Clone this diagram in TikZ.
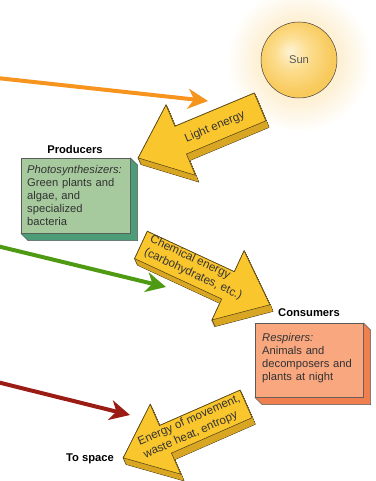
\documentclass[tikz,border=0pt]{standalone}
\usepackage{fontspec}
\setmainfont{Liberation Sans}
\usetikzlibrary{arrows.meta}
\definecolor{arrface}{HTML}{FAC62E}
\definecolor{arrside}{HTML}{D9A623}
\definecolor{arrline}{HTML}{4A3C14}
\definecolor{prodface}{HTML}{A6C99D}
\definecolor{prodside}{HTML}{4C9C78}
\definecolor{consface}{HTML}{F8A77F}
\definecolor{consside}{HTML}{EF7F4E}
\definecolor{boxline}{HTML}{5A5A5A}
\definecolor{txt}{HTML}{333333}
\definecolor{orangec}{HTML}{F7941D}
\definecolor{greenc}{HTML}{4F9A13}
\definecolor{redc}{HTML}{9B1C14}
\definecolor{glowc}{HTML}{FDF0D4}
\definecolor{sunhi}{HTML}{FEF3D4}
\definecolor{sunmid}{HTML}{FCDC8C}
\definecolor{sunedge}{HTML}{F8CA5C}
\pgfdeclareradialshading{sunglow}{\pgfpoint{0bp}{0bp}}{color(0bp)=(glowc); color(14bp)=(glowc); color(25bp)=(white); color(50bp)=(white)}
\pgfdeclareradialshading{sunfill}{\pgfpoint{-6bp}{6bp}}{color(0bp)=(sunhi); color(12bp)=(sunmid); color(25bp)=(sunedge); color(50bp)=(sunedge)}
\newcommand\blockarrow[4]{%
  \foreach \k in {0,...,10}{%
    \filldraw[draw=arrline,fill=arrline,line width=0.9pt,shift={(#1+0.3*\k,#2+0.65*\k)},rotate=#3]
      (0,-15) -- ({#4-46},-15) -- ({#4-46},-38) -- (#4,0) -- ({#4-46},38) -- ({#4-46},15) -- (0,15) -- cycle;}
  \foreach \k in {0,...,10}{%
    \fill[arrside,shift={(#1+0.3*\k,#2+0.65*\k)},rotate=#3]
      (0,-15) -- ({#4-46},-15) -- ({#4-46},-38) -- (#4,0) -- ({#4-46},38) -- ({#4-46},15) -- (0,15) -- cycle;}
  \filldraw[fill=arrface,draw=arrline,line width=0.5pt,shift={(#1,#2)},rotate=#3]
      (0,-15) -- ({#4-46},-15) -- ({#4-46},-38) -- (#4,0) -- ({#4-46},38) -- ({#4-46},15) -- (0,15) -- cycle;
}
\begin{document}
\begin{tikzpicture}[x=1pt,y=-1pt,
  font=\fontsize{11.2}{13}\selectfont,
  thinarr/.style={line width=4pt,-{Stealth[length=20pt,width=20pt,inset=6pt]}},
  boxtext/.style={text width=104pt,align=left,inner sep=0pt,text=txt},
  headlbl/.style={font=\fontsize{11.2}{13}\selectfont\bfseries,text=black,inner sep=0pt},
  arrtext/.style={text=txt,inner sep=0pt,font=\fontsize{11.6}{14}\selectfont},
  boxface/.style={draw=boxline,line width=0.5pt,anchor=north west,inner sep=0pt},
  boxside/.style={draw=boxline,line width=0.5pt}]
\useasboundingbox (0,0) rectangle (375,481);
% sun
\shade[shading=sunglow] (299,60) circle[radius=72pt];
\node[circle,minimum size=76pt,inner sep=0pt,draw=black!75,line width=0.5pt,shade,shading=sunfill,text=black!65] (sun) at (299,60) {Sun};
% block arrows
\blockarrow{260}{107}{202.7}{132}
\blockarrow{141}{245}{-24.9}{142}
\blockarrow{246}{404}{203.7}{134}
% producers
\node[boxface,fill=prodface,minimum width=109pt,minimum height=75pt] (prodbox) at (21,158) {};
\filldraw[boxside,fill=prodside] (prodbox.north east) -- ++(7,7) -- ([shift={(7,7)}]prodbox.south east) -- ([shift={(7,7)}]prodbox.south west) -- (prodbox.south west) -- (prodbox.south east) -- cycle;
\node[boxtext,anchor=north west] (prodtxt) at (27,165) {\textit{Photosynthesizers:}\\Green plants and\\algae, and\\specialized\\bacteria};
\node[headlbl] (prodlbl) at (75,149) {Producers};
% consumers
\node[boxface,fill=consface,minimum width=108pt,minimum height=74pt] (consbox) at (255,323) {};
\filldraw[boxside,fill=consside] (consbox.north east) -- ++(7,7) -- ([shift={(7,7)}]consbox.south east) -- ([shift={(7,7)}]consbox.south west) -- (consbox.south west) -- (consbox.south east) -- cycle;
\node[boxtext,anchor=north west] (constxt) at (262,333) {\textit{Respirers:}\\Animals and\\decomposers and\\plants at night};
\node[headlbl] (conslbl) at (309,313) {Consumers};
\node[headlbl] (spacelbl) at (90,459) {To space};
% arrow texts
\node[arrtext,rotate=22.7] (lighttxt) at (215,127) {Light energy};
\node[arrtext,rotate=-24.9,align=left] (chemtxt) at (196,268) {Chemical energy\\(carbohydrates, etc.)};
\node[arrtext,rotate=23.7,align=left] (movtxt) at (192,427) {Energy of movement,\\waste heat, entropy};
% thin arrows
\coordinate (os) at (-3,78); \coordinate (oe) at (208,101);
\coordinate (gs) at (-3,246); \coordinate (ge) at (166,287);
\coordinate (rs) at (-3,382); \coordinate (re) at (130,415);
\draw[thinarr,orangec] (os) -- (oe);
\draw[thinarr,greenc] (gs) -- (ge);
\draw[thinarr,redc] (rs) -- (re);
\end{tikzpicture}
\end{document}
